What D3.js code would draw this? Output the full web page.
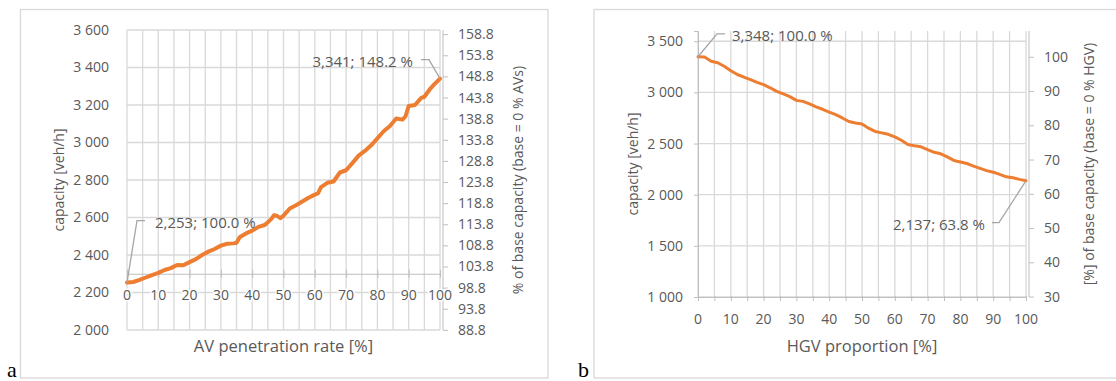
<!DOCTYPE html>
<html>
<head>
<meta charset="utf-8">
<script src="https://cdn.jsdelivr.net/npm/d3@7"></script>
<style>
  body { margin: 0; background: #fff; }
  text { font-family: "Open Sans", sans-serif; fill: #595959; }
</style>
</head>
<body>
<div id="chart"></div>
<script>
// Panel a - capacity vs AV penetration rate
const avRate = [0, 2, 4, 6, 8, 10, 12, 14, 16, 18, 20, 22, 24, 26, 28, 30, 32, 34, 35, 36, 38, 40, 42, 44, 46, 47, 48, 49, 50,
  52, 54, 56, 58, 60, 61, 62, 64, 66, 68, 70, 72, 74, 76, 78, 80, 82, 84, 86, 88, 89, 90, 92, 94, 95, 97, 98, 100];
const avCapacity = [2253, 2256, 2267, 2280, 2293, 2305, 2320, 2330, 2347, 2345, 2362, 2378, 2400, 2418, 2432, 2450, 2460, 2462, 2465, 2495,
  2515, 2530, 2550, 2560, 2590, 2613, 2608, 2596, 2610, 2648, 2665, 2685, 2705, 2722, 2729, 2762, 2785, 2792, 2840, 2852,
  2890, 2930, 2955, 2985, 3022, 3060, 3088, 3128, 3122, 3140, 3195, 3200, 3238, 3244, 3289, 3307, 3341];
const avLeftTicks = [2000, 2200, 2400, 2600, 2800, 3000, 3200, 3400, 3600];
const avRightTicks = [88.8, 93.8, 98.8, 103.8, 108.8, 113.8, 118.8, 123.8, 128.8, 133.8, 138.8, 143.8, 148.8, 153.8, 158.8];
const avLabels = ['2,253; 100.0 %', '3,341; 148.2 %'];

// Panel b - capacity vs HGV proportion
const hgvShare = [0, 2, 4, 6, 8, 10, 12, 14, 16, 18, 20, 22, 24, 26, 28, 30, 32, 34, 36, 38, 40, 42, 44, 46, 48, 50,
  52, 54, 56, 58, 60, 62, 64, 66, 68, 70, 72, 74, 76, 78, 80, 82, 84, 86, 88, 90, 92, 94, 96, 98, 100];
const hgvCapacity = [3348, 3345, 3305, 3290, 3255, 3212, 3175, 3150, 3125, 3098, 3075, 3045, 3010, 2985, 2958, 2922, 2912, 2888, 2858, 2835,
  2808, 2782, 2750, 2715, 2700, 2690, 2650, 2618, 2604, 2590, 2565, 2532, 2490, 2478, 2468, 2440, 2414, 2400, 2370, 2335,
  2320, 2305, 2280, 2258, 2235, 2220, 2198, 2175, 2165, 2150, 2137];
const hgvLeftTicks = [1000, 1500, 2000, 2500, 3000, 3500];
const hgvRightTicks = [30, 40, 50, 60, 70, 80, 90, 100];
const hgvLabels = ['3,348; 100.0 %', '2,137; 63.8 %'];

const xTicks = [0, 10, 20, 30, 40, 50, 60, 70, 80, 90, 100];

const W = 1116, H = 381;
const gridColor = '#d9d9d9', axisColor = '#bfbfbf', leaderColor = '#a6a6a6', orange = '#ed7d31';

const svg = d3.select('#chart').append('svg')
  .attr('width', W).attr('height', H);

const thousands = v => d3.format(',')(v).replace(',', ' ');

function drawPanel(p) {
  const g = svg.append('g');

  // outer frame
  g.append('rect')
    .attr('x', p.frame[0]).attr('y', p.frame[1])
    .attr('width', p.frame[2] - p.frame[0]).attr('height', p.frame[3] - p.frame[1])
    .attr('fill', 'none').attr('stroke', gridColor).attr('stroke-width', 1.3);

  const x = d3.scaleLinear().domain([0, 100]).range(p.xRange);
  const y = d3.scaleLinear().domain(p.yDomain).range(p.yRange);
  const yR = d3.scaleLinear().domain(p.rDomain)
    .range([y(p.base * p.rDomain[0] / 100), y(p.base * p.rDomain[1] / 100)]);

  // vertical gridlines every 5 %
  g.append('g').selectAll('line').data(d3.range(0, 101, 5)).join('line')
    .attr('x1', d => x(d)).attr('x2', d => x(d))
    .attr('y1', p.yRange[0]).attr('y2', p.yRange[1])
    .attr('stroke', gridColor).attr('stroke-width', 1.3);

  // horizontal gridlines
  g.append('g').selectAll('line').data(p.leftTicks).join('line')
    .attr('x1', p.xRange[0]).attr('x2', p.xRange[1])
    .attr('y1', d => y(d)).attr('y2', d => y(d))
    .attr('stroke', gridColor).attr('stroke-width', 1.3);

  // left axis
  const left = g.append('g')
    .attr('transform', `translate(${p.xRange[0]},0)`)
    .call(d3.axisLeft(y).tickValues(p.leftTicks).tickFormat(thousands).tickSize(p.leftLine ? 4 : 0).tickPadding(p.leftPad));
  left.select('.domain').attr('stroke', p.leftLine ? axisColor : 'none');
  left.selectAll('line').attr('stroke', axisColor);
  left.selectAll('text').style('font-size', '14px').attr('fill', '#595959');

  // right axis
  const rx = p.xRange[1] + 3;
  const right = g.append('g')
    .attr('transform', `translate(${rx},0)`)
    .call(d3.axisRight(yR).tickValues(p.rightTicks).tickFormat(p.rightFormat).tickSize(5).tickPadding(10));
  right.select('.domain').attr('stroke', axisColor).attr('d', `M0,${p.yRange[0]}V${p.yRange[1]}`);
  right.selectAll('line').attr('stroke', axisColor);
  right.selectAll('text').style('font-size', '14px').attr('fill', '#595959');

  // horizontal axis
  const ax = y(p.xCross);
  const bottom = g.append('g')
    .attr('transform', `translate(0,${ax})`)
    .call(d3.axisBottom(x).tickValues(p.xTickMarks).tickFormat('').tickSizeInner(p.xTickDown).tickSizeOuter(0));
  bottom.select('.domain').attr('stroke', axisColor);
  bottom.selectAll('line').attr('stroke', axisColor).attr('y1', -p.xTickUp);

  g.append('g').selectAll('text').data(xTicks).join('text')
    .attr('x', d => x(d)).attr('y', ax + 21)
    .attr('text-anchor', 'middle').attr('dominant-baseline', 'central')
    .style('font-size', '14px')
    .style('stroke', '#fff').style('stroke-width', 3).style('paint-order', 'stroke')
    .text(d => d);

  // axis titles
  const midY = (p.yRange[0] + p.yRange[1]) / 2;
  g.append('text')
    .attr('transform', `translate(${p.leftTitleX},${midY}) rotate(-90)`)
    .attr('text-anchor', 'middle').attr('dominant-baseline', 'central')
    .style('font-size', '14px').text('capacity [veh/h]');
  g.append('text')
    .attr('transform', `translate(${p.rightTitleX},${midY}) rotate(-90)`)
    .attr('text-anchor', 'middle').attr('dominant-baseline', 'central')
    .style('font-size', '14px').text(p.rightTitle);
  g.append('text')
    .attr('x', (p.xRange[0] + p.xRange[1]) / 2).attr('y', 345)
    .attr('text-anchor', 'middle').attr('dominant-baseline', 'central')
    .style('font-size', '16.5px').text(p.xTitle);

  // data line
  const data = p.xs.map((v, i) => [v, p.ys[i]]);
  g.append('path')
    .datum(data)
    .attr('fill', 'none').attr('stroke', orange)
    .attr('stroke-width', p.lineWidth).attr('stroke-linejoin', 'round').attr('stroke-linecap', 'round')
    .attr('d', d3.line().x(d => x(d[0])).y(d => y(d[1])));

  // data labels with leader lines
  const ends = [data[0], data[data.length - 1]];
  ends.forEach((d, i) => {
    const px = x(d[0]), py = y(d[1]);
    const o = p.labelOffsets[i];
    const ly = py + o.dy;
    g.append('path')
      .attr('d', `M${px},${py}L${px + o.bend},${ly}L${px + o.tail},${ly}`)
      .attr('fill', 'none').attr('stroke', leaderColor).attr('stroke-width', 1.3);
    g.append('text')
      .attr('x', px + o.dx).attr('y', ly + 1)
      .attr('text-anchor', o.anchor).attr('dominant-baseline', 'central')
      .style('font-size', '15px').text(p.labels[i]);
  });

  // panel letter
  g.append('text')
    .attr('x', p.letterX).attr('y', 377)
    .style('font-family', '"Liberation Serif", serif').style('font-size', '22px')
    .style('fill', '#000')
    .text(p.letter);
}

drawPanel({
  frame: [20.5, 9.5, 548, 378],
  xRange: [127, 440], yRange: [330, 30], yDomain: [2000, 3600],
  leftTicks: avLeftTicks, leftLine: false, leftPad: 18,
  rightTicks: avRightTicks, rDomain: [88.8, 158.8], base: 2253, rightFormat: d3.format('.1f'),
  xCross: 2300, xTickMarks: xTicks, xTickDown: 4, xTickUp: 4,
  leftTitleX: 58, rightTitleX: 517,
  rightTitle: '% of base capacity (base = 0 % AVs)', xTitle: 'AV penetration rate [%]',
  xs: avRate, ys: avCapacity, lineWidth: 4, labels: avLabels,
  labelOffsets: [
    {bend: 10, tail: 18, dy: -62, dx: 28, anchor: 'start'},
    {bend: -11, tail: -19, dy: -19, dx: -27, anchor: 'end'}
  ],
  letter: 'a', letterX: 7
});

drawPanel({
  frame: [594, 9.5, 1125, 378],
  xRange: [698, 1026], yRange: [297, 31], yDomain: [1000, 3600],
  leftTicks: hgvLeftTicks, leftLine: true, leftPad: 11,
  rightTicks: hgvRightTicks, rDomain: [30, 100], base: 3348, rightFormat: d3.format('d'),
  xCross: 1000, xTickMarks: d3.range(0, 101, 5), xTickDown: 4, xTickUp: 1,
  leftTitleX: 632, rightTitleX: 1088,
  rightTitle: '[%] of base capacity (base = 0 % HGV)', xTitle: 'HGV proportion [%]',
  xs: hgvShare, ys: hgvCapacity, lineWidth: 3, labels: hgvLabels,
  labelOffsets: [
    {bend: 19, tail: 27, dy: -23, dx: 34, anchor: 'start'},
    {bend: -27, tail: -34, dy: 42, dx: -41, anchor: 'end'}
  ],
  letter: 'b', letterX: 578
});
</script>
</body>
</html>
